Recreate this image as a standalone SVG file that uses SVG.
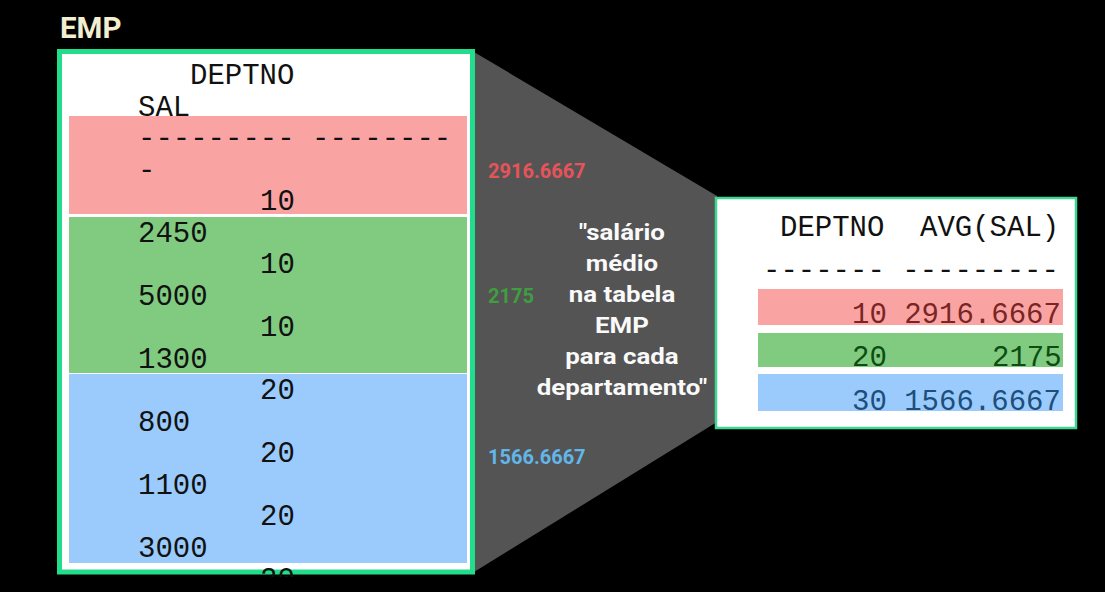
<svg xmlns="http://www.w3.org/2000/svg" width="1105" height="592" viewBox="0 0 1105 592">
<defs>
<style>
.mono{font-family:"Liberation Mono","Courier New",monospace;font-size:29px;fill:#111}
.lbl{font-family:Roboto,"Liberation Sans",sans-serif;font-weight:bold;font-size:20px}
.mid{font-family:Roboto,"Liberation Sans",sans-serif;font-weight:bold;font-size:22.5px;fill:#fafafa;text-anchor:middle}
</style>
<clipPath id="empclip"><rect x="0" y="0" width="1105" height="577"/></clipPath>
</defs>
<rect width="1105" height="592" fill="#000"/>
<g id="funnel">
<polygon points="474,52 717,196 717,422 474,572" fill="#545454"/>
</g>
<g id="emp-title">
<text x="60" y="38" style="font-family:Roboto,'Liberation Sans',sans-serif;font-weight:bold;font-size:29.5px;fill:#f2eecf">EMP</text>
</g>
<g id="emp-table">
<rect x="59.5" y="51.5" width="413" height="520.5" fill="#fff" stroke="#22dd8c" stroke-width="5"/>
<rect x="69" y="116" width="398" height="98" fill="#f9a4a3"/>
<rect x="69" y="217" width="398" height="156" fill="#80cb80"/>
<rect x="69" y="374" width="398" height="189" fill="#9acbfc"/>
<g clip-path="url(#empclip)">
<text class="mono" x="190" y="84">DEPTNO</text>
<text class="mono" x="138" y="115.5">SAL</text>
<text class="mono" x="138" y="147">--------- --------</text>
<text class="mono" x="138" y="178.5">-</text>
<text class="mono" x="260" y="210">10</text>
<text class="mono" x="138" y="241.5">2450</text>
<text class="mono" x="260" y="273">10</text>
<text class="mono" x="138" y="304.5">5000</text>
<text class="mono" x="260" y="336">10</text>
<text class="mono" x="138" y="367.5">1300</text>
<text class="mono" x="260" y="399">20</text>
<text class="mono" x="138" y="430.5">800</text>
<text class="mono" x="260" y="462">20</text>
<text class="mono" x="138" y="493.5">1100</text>
<text class="mono" x="260" y="525">20</text>
<text class="mono" x="138" y="556.5">3000</text>
<text class="mono" x="260" y="588">20</text>
</g>
</g>
<g id="side-values">
<text class="lbl" x="488" y="178" fill="#e6545a">2916.6667</text>
<text class="lbl" x="488" y="303" fill="#3f9e3f">2175</text>
<text class="lbl" x="488" y="464" fill="#62b6ea">1566.6667</text>
</g>
<g id="caption" transform="translate(622,0) scale(1.15,1)">
<text class="mid" x="0" y="240">"salário</text>
<text class="mid" x="0" y="271">médio</text>
<text class="mid" x="0" y="302">na tabela</text>
<text class="mid" x="0" y="333">EMP</text>
<text class="mid" x="0" y="364">para cada</text>
<text class="mid" x="0" y="395">departamento"</text>
</g>
<g id="result-table">
<rect x="716" y="198" width="360" height="230" fill="#fff" stroke="#3fd690" stroke-width="2.5"/>
<rect x="758" y="289" width="305" height="36" fill="#f9a4a3"/>
<rect x="758" y="333" width="305" height="34" fill="#80cb80"/>
<rect x="758" y="374" width="305" height="37" fill="#9acbfc"/>
<text class="mono" x="780" y="236">DEPTNO</text>
<text class="mono" x="920" y="236">AVG(SAL)</text>
<text class="mono" x="763" y="279">------- ---------</text>
<text class="mono" x="852" y="323" style="fill:#7a2424">10 2916.6667</text>
<text class="mono" x="852" y="366" style="fill:#0d4d12">20</text>
<text class="mono" x="992" y="366" style="fill:#0d4d12">2175</text>
<text class="mono" x="852" y="410" style="fill:#1d4e7c">30 1566.6667</text>
</g>
</svg>
